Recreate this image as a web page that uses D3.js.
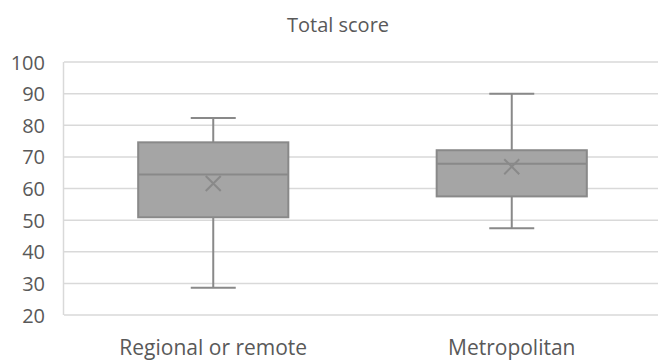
<!DOCTYPE html>
<html>
<head>
<meta charset="utf-8">
<script src="https://cdn.jsdelivr.net/npm/d3@7"></script>
<style>
  html, body { margin: 0; padding: 0; background: #fff; }
  svg { display: block; font-family: "Open Sans", sans-serif; }
</style>
</head>
<body>
<svg id="chart" width="658" height="360"></svg>
<script>
// Box-plot summary of total score by location
const categories  = ["Regional or remote", "Metropolitan"];
const whiskerLow  = [28.6, 47.4];
const q1          = [50.9, 57.5];
const median      = [64.4, 67.8];
const q3          = [74.6, 72.1];
const whiskerHigh = [82.3, 90.0];
const mean        = [61.6, 66.9];
const yTicks      = [20, 30, 40, 50, 60, 70, 80, 90, 100];
const title       = "Total score";

const W = 658, H = 360;
const plot = { left: 64, right: 658, top: 62, bottom: 315 };

const svg = d3.select("#chart");

const x = d3.scaleBand().domain(categories).range([plot.left, 661]).padding(0);
const y = d3.scaleLinear().domain([20, 100]).range([plot.bottom, plot.top]);

const textColor = "#595959";
const gridColor = "#d9d9d9";
const boxFill = "#a5a5a5";
const boxStroke = "#898989";

// Title
svg.append("text")
  .attr("x", 338).attr("y", 32)
  .attr("text-anchor", "middle")
  .attr("font-size", 20)
  .attr("fill", textColor)
  .text(title);

// Horizontal gridlines
svg.append("g")
  .selectAll("line")
  .data(yTicks)
  .join("line")
  .attr("x1", plot.left).attr("x2", plot.right)
  .attr("y1", d => y(d)).attr("y2", d => y(d))
  .attr("stroke", gridColor).attr("stroke-width", 1.5);

// Left axis line
svg.append("line")
  .attr("x1", plot.left - 0.5).attr("x2", plot.left - 0.5)
  .attr("y1", y(100)).attr("y2", y(20))
  .attr("stroke", gridColor).attr("stroke-width", 1.5);

// Y axis labels
const yAxis = d3.axisLeft(y).tickValues(yTicks).tickSize(0).tickPadding(0);
const gy = svg.append("g")
  .attr("transform", `translate(${plot.left - 19},0)`)
  .call(yAxis);
gy.select(".domain").remove();
gy.selectAll("text")
  .attr("font-family", "Open Sans, sans-serif")
  .attr("font-size", 20)
  .attr("fill", textColor)
  .attr("dy", "0.35em");

// X axis labels
const xAxis = d3.axisBottom(x).tickSize(0).tickPadding(0);
const gx = svg.append("g")
  .attr("transform", `translate(0,${plot.bottom + 24})`)
  .call(xAxis);
gx.select(".domain").remove();
gx.selectAll("text")
  .attr("font-family", "Open Sans, sans-serif")
  .attr("font-size", 21)
  .attr("fill", textColor)
  .attr("dy", "0.75em");

// Boxes
const boxW = x.bandwidth() * 0.503;
const capW = 45;
const data = categories.map((c, i) => ({
  c, lo: whiskerLow[i], q1: q1[i], med: median[i], q3: q3[i], hi: whiskerHigh[i], mean: mean[i]
}));

const g = svg.append("g")
  .selectAll("g")
  .data(data)
  .join("g")
  .attr("transform", d => `translate(${x(d.c) + x.bandwidth() / 2},0)`);

// Whisker stems
g.append("line")
  .attr("x1", 0).attr("x2", 0)
  .attr("y1", d => y(d.hi)).attr("y2", d => y(d.q3))
  .attr("stroke", boxStroke).attr("stroke-width", 2);
g.append("line")
  .attr("x1", 0).attr("x2", 0)
  .attr("y1", d => y(d.q1)).attr("y2", d => y(d.lo))
  .attr("stroke", boxStroke).attr("stroke-width", 2);

// Whisker caps
g.append("line")
  .attr("x1", -capW / 2).attr("x2", capW / 2)
  .attr("y1", d => y(d.hi)).attr("y2", d => y(d.hi))
  .attr("stroke", boxStroke).attr("stroke-width", 2);
g.append("line")
  .attr("x1", -capW / 2).attr("x2", capW / 2)
  .attr("y1", d => y(d.lo)).attr("y2", d => y(d.lo))
  .attr("stroke", boxStroke).attr("stroke-width", 2);

// Interquartile box
g.append("rect")
  .attr("x", -boxW / 2).attr("width", boxW)
  .attr("y", d => y(d.q3))
  .attr("height", d => y(d.q1) - y(d.q3))
  .attr("fill", boxFill)
  .attr("stroke", boxStroke).attr("stroke-width", 2);

// Median line
g.append("line")
  .attr("x1", -boxW / 2).attr("x2", boxW / 2)
  .attr("y1", d => y(d.med)).attr("y2", d => y(d.med))
  .attr("stroke", boxStroke).attr("stroke-width", 2);

// Mean marker (x)
const mk = 7.5;
g.append("path")
  .attr("d", d => {
    const cy = y(d.mean);
    return `M${-mk},${cy - mk}L${mk},${cy + mk}M${-mk},${cy + mk}L${mk},${cy - mk}`;
  })
  .attr("stroke", boxStroke).attr("stroke-width", 2).attr("fill", "none");
</script>
</body>
</html>
